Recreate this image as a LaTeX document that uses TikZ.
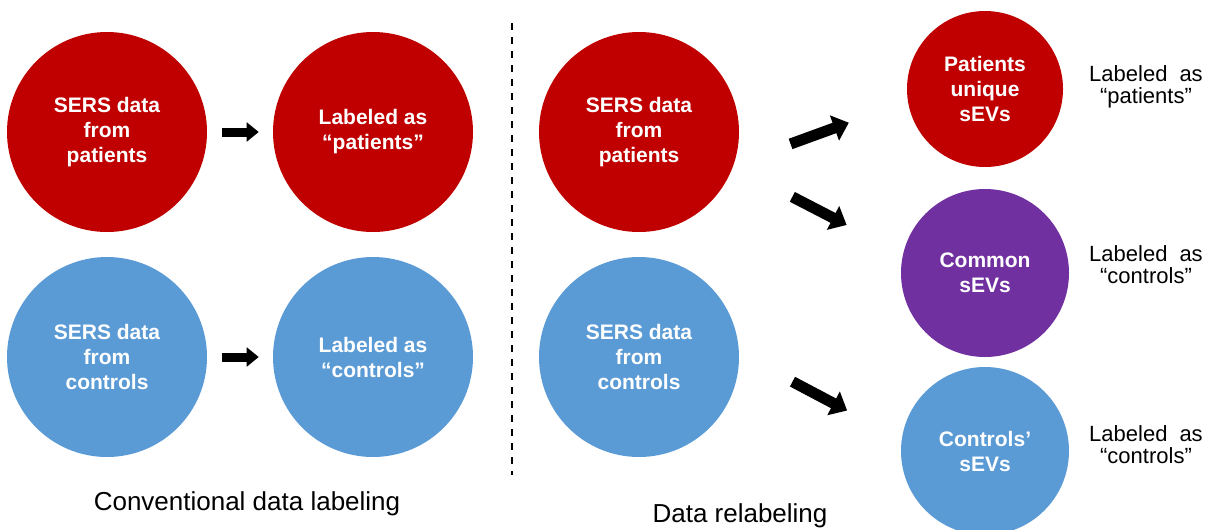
\documentclass[tikz,border=0pt]{standalone}
\usepackage{fontspec}
\setmainfont{Liberation Sans}
\usetikzlibrary{arrows.meta}

\definecolor{sersred}{HTML}{C00000}
\definecolor{sersblue}{HTML}{5B9BD5}
\definecolor{sevpurple}{HTML}{7030A0}

\tikzset{
  blob/.style={circle,inner sep=0pt,minimum size=150pt,text=white,align=center,
    font=\bfseries\fontsize{15.75}{18.75}\selectfont},
  flatarrow/.style={line width=6.75pt,-{Triangle[length=9pt,width=14pt]}},
  bigarrow/.style={line width=8.25pt,-{Triangle[length=11.5pt,width=19.5pt]}},
  lbltext/.style={align=center,font=\fontsize{16.5}{16.3}\selectfont,
    execute at begin node={\spaceskip=9pt\relax}},
  undertitle/.style={anchor=base,font=\fontsize{19.5}{23}\selectfont},
}

\begin{document}
\begin{tikzpicture}[x=0.75pt,y=-0.75pt]
   \useasboundingbox (0,0) rectangle (1206,529);

   % 従来のラベル付け
   \node[blob,fill=sersred] (lp) at (107,132) {SERS data\\from\\patients};
   \node[blob,fill=sersred] (lpl) at (373,132) {Labeled as\\“patients”};
   \node[blob,fill=sersblue] (lc) at (107,357) {SERS data\\from\\controls};
   \node[blob,fill=sersblue] (lcl) at (373,357) {Labeled as\\“controls”};
   \draw[flatarrow,shorten <=11.25pt,shorten >=10.5pt] (lp) -- (lpl);
   \draw[flatarrow,shorten <=11.25pt,shorten >=10.5pt] (lc) -- (lcl);
   \node[undertitle] (conv) at (247,510) {Conventional data labeling};

   % 区切り線
   \draw[line width=1.5pt,dash pattern=on 5.25pt off 5.25pt] (512,23) -- (512,475);

   % 再ラベル付け
   \node[blob,fill=sersred] (mp) at (639,132) {SERS data\\from\\patients};
   \node[blob,fill=sersblue] (mc) at (639,357) {SERS data\\from\\controls};
   \node[blob,fill=sersred,minimum size=117pt] (pu) at (985,89) {Patients\\unique\\sEVs};
   \node[blob,fill=sevpurple,minimum size=126pt] (cm) at (985,273) {Common\\sEVs};
   \node[blob,fill=sersblue,minimum size=126pt] (cs) at (985,451) {Controls’\\sEVs};

   \draw[bigarrow,shorten <=45.3pt,shorten >=47pt] (mp.-19) -- (pu.189);
   \draw[bigarrow,shorten <=49.9pt,shorten >=47.5pt] (mp.-20) -- (cm.167);
   \draw[bigarrow,shorten <=45.2pt,shorten >=46.2pt] (mc.2) -- (cs.172);

   \node[lbltext] (pul) at (1146,87) {Labeled as\\“patients”};
   \node[lbltext] (cml) at (1146,264.5) {Labeled as\\“controls”};
   \node[lbltext] (csl) at (1146,444.5) {Labeled as\\“controls”};
   \node[undertitle] (rel) at (740,522) {Data relabeling};

\end{tikzpicture}
\end{document}
